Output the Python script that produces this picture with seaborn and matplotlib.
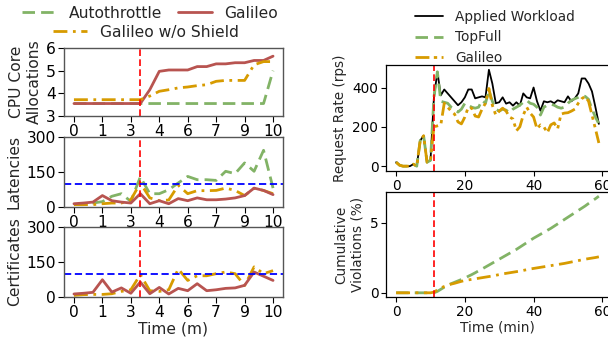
import numpy as np
import matplotlib
matplotlib.use("Agg")
import matplotlib.pyplot as plt
import seaborn as sns

sns.set_theme(style="ticks")
plt.rcParams['font.family'] = ['DejaVu Sans']

GREEN = "#82B366"
RED = "#B85450"
ORANGE = "#D79B00"

# ---------------- left panels data (22 samples over 10 minutes) ----------------
t_left = np.linspace(0, 10, 22)
left_ticks = np.linspace(0, 10, 8)
left_ticklabels = ["0", "1", "3", "4", "6", "7", "9", "10"]
switch_left = 3.33

cpu_autothrottle = [3.55, 3.55, 3.55, 3.55, 3.55, 3.55, 3.55, 3.55, 3.55, 3.55, 3.55,
                    3.55, 3.55, 3.55, 3.55, 3.55, 3.55, 3.55, 3.55, 3.55, 3.55, 5.0]
cpu_galileo = [3.55, 3.55, 3.55, 3.55, 3.55, 3.55, 3.55, 3.55, 4.16, 4.97, 5.03,
               5.03, 5.03, 5.18, 5.18, 5.30, 5.30, 5.35, 5.35, 5.45, 5.45, 5.64]
cpu_noshield = [3.72, 3.72, 3.72, 3.72, 3.72, 3.72, 3.72, 3.72, 3.88, 4.09, 4.16,
                4.24, 4.28, 4.34, 4.38, 4.53, 4.57, 4.57, 4.57, 5.26, 5.40, 5.40]

lat_autothrottle = [10, 10, 17, 23, 46, 57, 24, 129, 57, 57, 74,
                    103, 131, 117, 117, 114, 153, 143, 189, 153, 243, 81]
lat_galileo = [14, 17, 21, 49, 27, 21, 17, 57, 14, 27, 14,
               36, 27, 39, 31, 31, 34, 39, 49, 81, 71, 53]
lat_noshield = [10, 10, 10, 14, 17, 17, 31, 103, 39, 27, 30,
                93, 57, 70, 70, 71, 81, 71, 49, 80, 71, 57]

cert_galileo = [13, 16, 20, 74, 21, 39, 16, 64, 14, 41, 13,
                37, 27, 57, 27, 31, 37, 39, 50, 107, 89, 71]
cert_noshield = [7, 10, 11, 11, 14, 24, 31, 96, 27, 24, 31,
                 120, 71, 91, 91, 100, 107, 100, 49, 129, 100, 113]
slo_threshold = 100

# ---------------- right panels data (per minute, 60 minutes) ----------------
t_right = np.arange(60)
right_ticks = [0, 20, 40, 60]
switch_right = 11

workload = [20, 5, 0, 0, 0, 10, 0, 130, 155, 20, 30, 350, 480, 360, 390, 370, 350, 330, 310, 325,
            350, 390, 390, 345, 350, 355, 350, 490, 420, 320, 325, 350, 318, 325, 308, 325, 308, 370, 350, 345,
            400, 330, 282, 330, 325, 330, 320, 335, 330, 325, 355, 330, 345, 370, 446, 446, 420, 380, 300, 215]
topfull = [20, 5, 0, 0, 0, 10, 0, 130, 155, 20, 30, 350, 480, 330, 325, 320, 300, 290, 275, 290,
           320, 310, 300, 295, 300, 335, 320, 385, 330, 290, 280, 290, 285, 272, 290, 300, 310, 325, 335, 320,
           315, 300, 260, 300, 310, 315, 310, 300, 295, 300, 320, 335, 343, 350, 359, 355, 340, 290, 250, 215]
galileo_rr = [20, 5, 0, 0, 0, 10, 0, 130, 155, 20, 30, 200, 205, 210, 320, 300, 280, 265, 225, 215,
              250, 300, 295, 255, 250, 290, 320, 395, 310, 260, 280, 295, 280, 250, 240, 180, 200, 260, 300, 270,
              250, 190, 210, 200, 170, 210, 220, 190, 265, 270, 272, 280, 290, 320, 343, 355, 330, 260, 190, 118]

topfull_cum = [0, 0, 0, 0, 0, 0, 0, 0, 0, 0, 0, 0, 0.10, 0.25, 0.40, 0.55, 0.65, 0.75, 0.85, 0.95,
               1.05, 1.18, 1.30, 1.43, 1.57, 1.70, 1.84, 1.98, 2.12, 2.26, 2.40, 2.54, 2.68, 2.82, 2.96, 3.10,
               3.26, 3.42, 3.58, 3.74, 3.90, 4.04, 4.18, 4.32, 4.46, 4.60, 4.76, 4.92, 5.08, 5.24, 5.40, 5.56,
               5.72, 5.88, 6.04, 6.20, 6.38, 6.55, 6.72, 6.90]
galileo_cum = [0, 0, 0, 0, 0, 0, 0, 0, 0, 0, 0, 0.05, 0.20, 0.35, 0.45, 0.55, 0.62, 0.68, 0.75, 0.82,
               0.88, 0.92, 0.96, 1.00, 1.04, 1.08, 1.12, 1.16, 1.20, 1.25, 1.30, 1.35, 1.39, 1.43, 1.47, 1.51,
               1.55, 1.60, 1.65, 1.70, 1.74, 1.78, 1.82, 1.86, 1.90, 1.94, 1.98, 2.02, 2.06, 2.10, 2.15, 2.20,
               2.25, 2.30, 2.35, 2.40, 2.44, 2.48, 2.52, 2.57]

W, H = 608, 339
fig = plt.figure(figsize=(W / 100, H / 100), dpi=100)


def axes_px(left, top, right, bottom):
    return fig.add_axes([left / W, 1 - bottom / H, (right - left) / W, (bottom - top) / H])


LFS = 11.2
RFS = 9.8
LW = 2.0

ax_cpu = axes_px(64, 48, 283, 116)
ax_lat = axes_px(64, 137, 283, 207)
ax_cert = axes_px(64, 227, 283, 297)
ax_rr = axes_px(386, 65, 609, 171)
ax_cv = axes_px(386, 192, 609, 297)

dash_g = (0, (4.5, 2.2))
dashdot = (0, (5, 2, 1, 2))

# CPU
sns.lineplot(x=t_left, y=cpu_autothrottle, ax=ax_cpu, color=GREEN, lw=LW, linestyle=dash_g, label="Autothrottle")
sns.lineplot(x=t_left, y=cpu_galileo, ax=ax_cpu, color=RED, lw=LW, label="Galileo")
sns.lineplot(x=t_left, y=cpu_noshield, ax=ax_cpu, color=ORANGE, lw=LW, linestyle=dashdot, label="Galileo w/o Shield")
ax_cpu.set_ylim(3, 6)
ax_cpu.set_yticks([3, 4, 5, 6])
ax_cpu.set_ylabel("CPU Core\nAllocations", fontsize=LFS, labelpad=3)

# Latencies
sns.lineplot(x=t_left, y=lat_autothrottle, ax=ax_lat, color=GREEN, lw=LW, linestyle=dash_g)
sns.lineplot(x=t_left, y=lat_noshield, ax=ax_lat, color=ORANGE, lw=LW, linestyle=dashdot)
sns.lineplot(x=t_left, y=lat_galileo, ax=ax_lat, color=RED, lw=LW)
ax_lat.set_ylim(0, 300)
ax_lat.set_yticks([0, 150, 300])
ax_lat.set_ylabel("Latencies", fontsize=LFS, labelpad=3)

# Certificates
sns.lineplot(x=t_left, y=cert_noshield, ax=ax_cert, color=ORANGE, lw=LW, linestyle=dashdot)
sns.lineplot(x=t_left, y=cert_galileo, ax=ax_cert, color=RED, lw=LW)
ax_cert.set_ylim(0, 300)
ax_cert.set_yticks([0, 150, 300])
ax_cert.set_ylabel("Certificates", fontsize=LFS, labelpad=3)
ax_cert.set_xlabel("Time (m)", fontsize=LFS, labelpad=1)

for ax in (ax_cpu, ax_lat, ax_cert):
    ax.set_xlim(-0.5, 10.5)
    ax.set_xticks(left_ticks)
    ax.set_xticklabels(left_ticklabels)
    ax.tick_params(labelsize=LFS, length=4, width=0.8, pad=2, colors="black")
    ax.axvline(switch_left, color="red", lw=1.2, linestyle=(0, (4, 2)))
    for s in ax.spines.values():
        s.set_color("#555555")
        s.set_linewidth(1.0)
    if ax.get_legend() is not None:
        ax.get_legend().remove()
for ax in (ax_lat, ax_cert):
    ax.axhline(slo_threshold, color="blue", lw=1.3, linestyle=(0, (4, 2)))

h, l = ax_cpu.get_legend_handles_labels()
fig.legend(h[:2], l[:2], ncol=2, loc="center", bbox_to_anchor=(150 / W, 1 - 13 / H), frameon=False,
           fontsize=LFS, handlelength=2.2, handletextpad=0.8, columnspacing=1.0, borderpad=0, borderaxespad=0)
fig.legend(h[2:], l[2:], ncol=1, loc="center", bbox_to_anchor=(146 / W, 1 - 32 / H), frameon=False,
           fontsize=LFS, handlelength=2.2, handletextpad=0.8, borderpad=0, borderaxespad=0)

# Request rate
dashdotdot = (0, (5, 1.6, 1.2, 1.6, 1.2, 1.6))
sns.lineplot(x=t_right, y=workload, ax=ax_rr, color="black", lw=1.3, label="Applied Workload")
sns.lineplot(x=t_right, y=topfull, ax=ax_rr, color=GREEN, lw=LW, linestyle=dash_g, label="TopFull")
sns.lineplot(x=t_right, y=galileo_rr, ax=ax_rr, color=ORANGE, lw=LW, linestyle=dashdotdot, label="Galileo")
ax_rr.set_ylabel("Request Rate (rps)", fontsize=RFS, labelpad=4)
ax_rr.set_yticks([0, 200, 400])
ax_rr.legend(loc="lower center", bbox_to_anchor=(0.49, 1.0), frameon=False, fontsize=RFS,
             handlelength=2.0, handletextpad=0.95, labelspacing=0.48, borderaxespad=0.0, borderpad=0.0)

# Cumulative violations
sns.lineplot(x=t_right, y=topfull_cum, ax=ax_cv, color=GREEN, lw=LW, linestyle=dash_g)
sns.lineplot(x=t_right, y=galileo_cum, ax=ax_cv, color=ORANGE, lw=LW, linestyle=dashdot)
ax_cv.set_ylim(-0.3, 7.2)
ax_cv.set_yticks([0, 5])
ax_cv.set_ylabel("Cumulative\nViolations (%)", fontsize=RFS, labelpad=4)
ax_cv.set_xlabel("Time (min)", fontsize=RFS, labelpad=1)

for ax in (ax_rr, ax_cv):
    ax.set_xlim(-2.95, 61.95)
    ax.set_xticks(right_ticks)
    ax.tick_params(labelsize=RFS, length=3.5, width=0.8, pad=2, colors="black")
    ax.axvline(switch_right, color="red", lw=1.2, linestyle=(0, (4, 2)))
    for s in ax.spines.values():
        s.set_color("black")
        s.set_linewidth(0.9)
if ax_cv.get_legend() is not None:
    ax_cv.get_legend().remove()

fig.savefig("out.png", dpi=100)
